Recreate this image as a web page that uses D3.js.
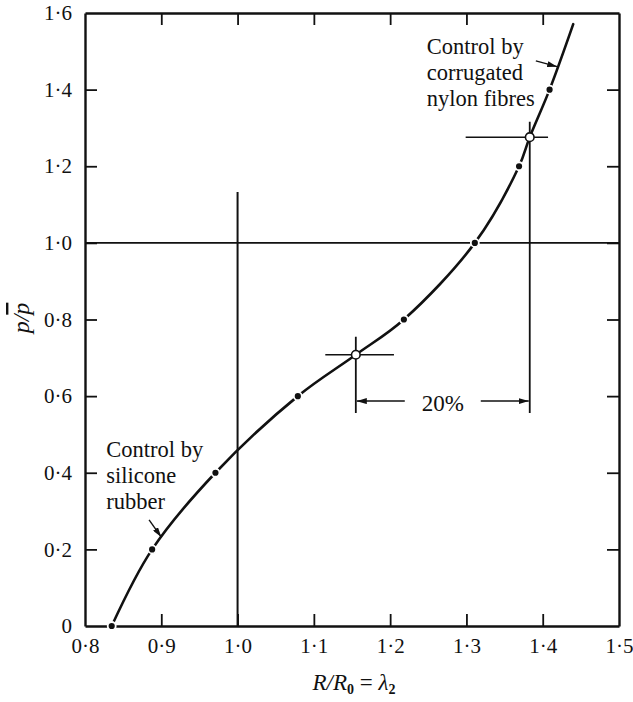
<!DOCTYPE html>
<html>
<head>
<meta charset="utf-8">
<script src="https://cdn.jsdelivr.net/npm/d3@7"></script>
<style>
  html, body { margin: 0; padding: 0; background: #fff; }
  svg { display: block; }
  svg text { font-family: "Liberation Serif", "Times New Roman", Times, "DejaVu Serif", serif; fill: #111; }
</style>
</head>
<body>
<svg id="chart" width="633" height="702"></svg>
<script>
// Axis ticks
const lambdaTicks = [0.8, 0.9, 1.0, 1.1, 1.2, 1.3, 1.4, 1.5];
const pTicks = [0, 0.2, 0.4, 0.6, 0.8, 1.0, 1.2, 1.4, 1.6];

// Pressure–stretch curve p/p̄ against λ2
const curveLambda = [0.835, 0.888, 0.971, 1.079, 1.155, 1.218, 1.311, 1.369, 1.383, 1.409, 1.440];
const curveP      = [0.000, 0.200, 0.400, 0.600, 0.708, 0.800, 1.000, 1.200, 1.276, 1.400, 1.571];

// Marked points on the curve
const dotLambda = [0.835, 0.888, 0.971, 1.079, 1.218, 1.311, 1.369, 1.409];
const dotP      = [0.0, 0.2, 0.4, 0.6, 0.8, 1.0, 1.2, 1.4];

// Open circles (range of operation)
const openLambda = [1.155, 1.383];
const openP      = [0.708, 1.276];

// Reference levels
const unitStretch = 1.0;      // λ2 = 1 vertical
const unitPressure = 1.0;     // p/p̄ = 1 horizontal
const unitStretchTop = 1.133;
const spanLabel = "20%";
const spanLevel = 0.587;

const W = 633, H = 702;
const margin = { left: 85, right: 14, top: 13, bottom: 76 };
const innerW = W - margin.left - margin.right;
const innerH = H - margin.top - margin.bottom;
const SERIF = "Liberation Serif, Times New Roman, Times, DejaVu Serif, serif";

const svg = d3.select("#chart");
const g = svg.append("g").attr("transform", `translate(${margin.left},${margin.top})`);

const x = d3.scaleLinear().domain([0.8, 1.5]).range([0, innerW]);
const y = d3.scaleLinear().domain([0, 1.6]).range([innerH, 0]);

const fmt = d => (d === 0 ? "0" : d3.format(".1f")(d).replace(".", "\u00B7"));
const tickFont = 21;

// Frame and inward ticks on all four sides
const axisStyle = sel => {
  sel.attr("font-family", SERIF);
  sel.selectAll(".domain").attr("stroke", "#111").attr("stroke-width", 2.4);
  sel.selectAll(".tick line").attr("stroke", "#111").attr("stroke-width", 1.8);
  sel.selectAll(".tick text").attr("font-size", tickFont).attr("fill", "#111");
};

g.append("g").attr("transform", `translate(0,${innerH})`)
  .call(d3.axisBottom(x).tickValues(lambdaTicks).tickFormat(fmt).tickSizeInner(-12).tickSizeOuter(0).tickPadding(12))
  .call(axisStyle)
  .call(s => s.selectAll(".tick").filter(d => d === 0.8 || d === 1.5).select("line").remove());

g.append("g")
  .call(d3.axisTop(x).tickValues(lambdaTicks).tickFormat("").tickSizeInner(-12).tickSizeOuter(0))
  .call(axisStyle)
  .call(s => s.selectAll(".tick").filter(d => d === 0.8 || d === 1.5).select("line").remove());

g.append("g")
  .call(d3.axisLeft(y).tickValues(pTicks).tickFormat(fmt).tickSizeInner(-12).tickSizeOuter(0).tickPadding(13))
  .call(axisStyle)
  .call(s => s.selectAll(".tick").filter(d => d === 0 || d === 1.6).select("line").remove());

g.append("g").attr("transform", `translate(${innerW},0)`)
  .call(d3.axisRight(y).tickValues(pTicks).tickFormat("").tickSizeInner(-12).tickSizeOuter(0))
  .call(axisStyle)
  .call(s => s.selectAll(".tick").filter(d => d === 0 || d === 1.6).select("line").remove());

// Reference lines
g.append("line")
  .attr("x1", x(unitStretch)).attr("x2", x(unitStretch))
  .attr("y1", y(0)).attr("y2", y(unitStretchTop))
  .attr("stroke", "#111").attr("stroke-width", 2);

g.append("line")
  .attr("x1", x(0.8)).attr("x2", x(1.5))
  .attr("y1", y(unitPressure)).attr("y2", y(unitPressure))
  .attr("stroke", "#111").attr("stroke-width", 1.6);

// Crosshairs through the open circles
const crossH = [[1.115, 1.205], [1.299, 1.407]];
const crossV = [[0.755, 0.556], [1.316, 0.556]];
openLambda.forEach((l, i) => {
  g.append("line")
    .attr("x1", x(crossH[i][0])).attr("x2", x(crossH[i][1]))
    .attr("y1", y(openP[i])).attr("y2", y(openP[i]))
    .attr("stroke", "#111").attr("stroke-width", 1.5);
  g.append("line")
    .attr("x1", x(l)).attr("x2", x(l))
    .attr("y1", y(crossV[i][0])).attr("y2", y(crossV[i][1]))
    .attr("stroke", "#111").attr("stroke-width", 1.8);
});

// Dimension line between the two operating points
const defs = svg.append("defs");
defs.append("marker")
  .attr("id", "head").attr("viewBox", "0 0 10 6")
  .attr("refX", 10).attr("refY", 3)
  .attr("markerWidth", 10).attr("markerHeight", 6)
  .attr("markerUnits", "userSpaceOnUse")
  .attr("orient", "auto")
  .append("path").attr("d", "M0,0 L10,3 L0,6 Z").attr("fill", "#111");

const xa = x(openLambda[0]), xb = x(openLambda[1]);
const mid = (xa + xb) / 2;
const ySpan = y(spanLevel);
g.append("line")
  .attr("x1", mid - 38).attr("x2", xa + 1)
  .attr("y1", ySpan).attr("y2", ySpan)
  .attr("stroke", "#111").attr("stroke-width", 1.5)
  .attr("marker-end", "url(#head)");
g.append("line")
  .attr("x1", mid + 38).attr("x2", xb - 1)
  .attr("y1", ySpan).attr("y2", ySpan)
  .attr("stroke", "#111").attr("stroke-width", 1.5)
  .attr("marker-end", "url(#head)");
g.append("text")
  .attr("x", mid).attr("y", ySpan + 10)
  .attr("text-anchor", "middle")
  .attr("font-family", SERIF)
  .attr("font-size", 23)
  .text(spanLabel);

// Curve
const line = d3.line()
  .x((d, i) => x(curveLambda[i]))
  .y((d, i) => y(curveP[i]))
  .curve(d3.curveCatmullRom.alpha(0.5));

g.append("path")
  .datum(curveLambda)
  .attr("d", line)
  .attr("fill", "none")
  .attr("stroke", "#111")
  .attr("stroke-width", 2.6)
  .attr("stroke-linecap", "round");

// Filled points
g.selectAll("circle.dot")
  .data(dotLambda)
  .join("circle")
  .attr("class", "dot")
  .attr("cx", d => x(d))
  .attr("cy", (d, i) => y(dotP[i]))
  .attr("r", 4)
  .attr("fill", "#111")
  .attr("stroke", "#fff")
  .attr("stroke-width", 1.8);

// Open points
g.selectAll("circle.open")
  .data(openLambda)
  .join("circle")
  .attr("class", "open")
  .attr("cx", d => x(d))
  .attr("cy", (d, i) => y(openP[i]))
  .attr("r", 4.3)
  .attr("fill", "#fff")
  .attr("stroke", "#111")
  .attr("stroke-width", 1.6);

// Annotations
const notes = [
  { lines: ["Control by", "corrugated", "nylon fibres"], at: [1.248, 1.494], tail: [1.391, 1.475], head: [1.419, 1.460] },
  { lines: ["Control by", "silicone", "rubber"], at: [0.828, 0.441], tail: [0.884, 0.277], head: [0.900, 0.232] }
];
notes.forEach(n => {
  const t = g.append("text")
    .attr("x", x(n.at[0])).attr("y", y(n.at[1]))
    .attr("font-family", SERIF)
    .attr("font-size", 22.5);
  n.lines.forEach((s, i) => {
    t.append("tspan").attr("x", x(n.at[0])).attr("dy", i === 0 ? 0 : 26).text(s);
  });
  g.append("line")
    .attr("x1", x(n.tail[0])).attr("y1", y(n.tail[1]))
    .attr("x2", x(n.head[0])).attr("y2", y(n.head[1]))
    .attr("stroke", "#111").attr("stroke-width", 1.4)
    .attr("marker-end", "url(#head)");
});

// Axis titles
const xt = svg.append("text")
  .attr("x", 354).attr("y", 690)
  .attr("text-anchor", "middle")
  .attr("font-family", SERIF)
  .attr("font-size", 23);
xt.append("tspan").attr("font-style", "italic").text("R/R");
xt.append("tspan").attr("font-size", 14).attr("font-weight", "bold").attr("dy", 4).text("0");
xt.append("tspan").attr("dy", -4).text(" = ");
xt.append("tspan").attr("font-style", "italic").text("\u03BB");
xt.append("tspan").attr("font-size", 14).attr("font-weight", "bold").attr("dy", 4).text("2");

const yt = svg.append("text")
  .attr("transform", "translate(29,318) rotate(-90)")
  .attr("text-anchor", "middle")
  .attr("font-family", SERIF)
  .attr("font-size", 24)
  .attr("font-style", "italic");
yt.append("tspan").text("p/");
yt.append("tspan").style("text-decoration", "overline").text("p");
</script>
</body>
</html>
